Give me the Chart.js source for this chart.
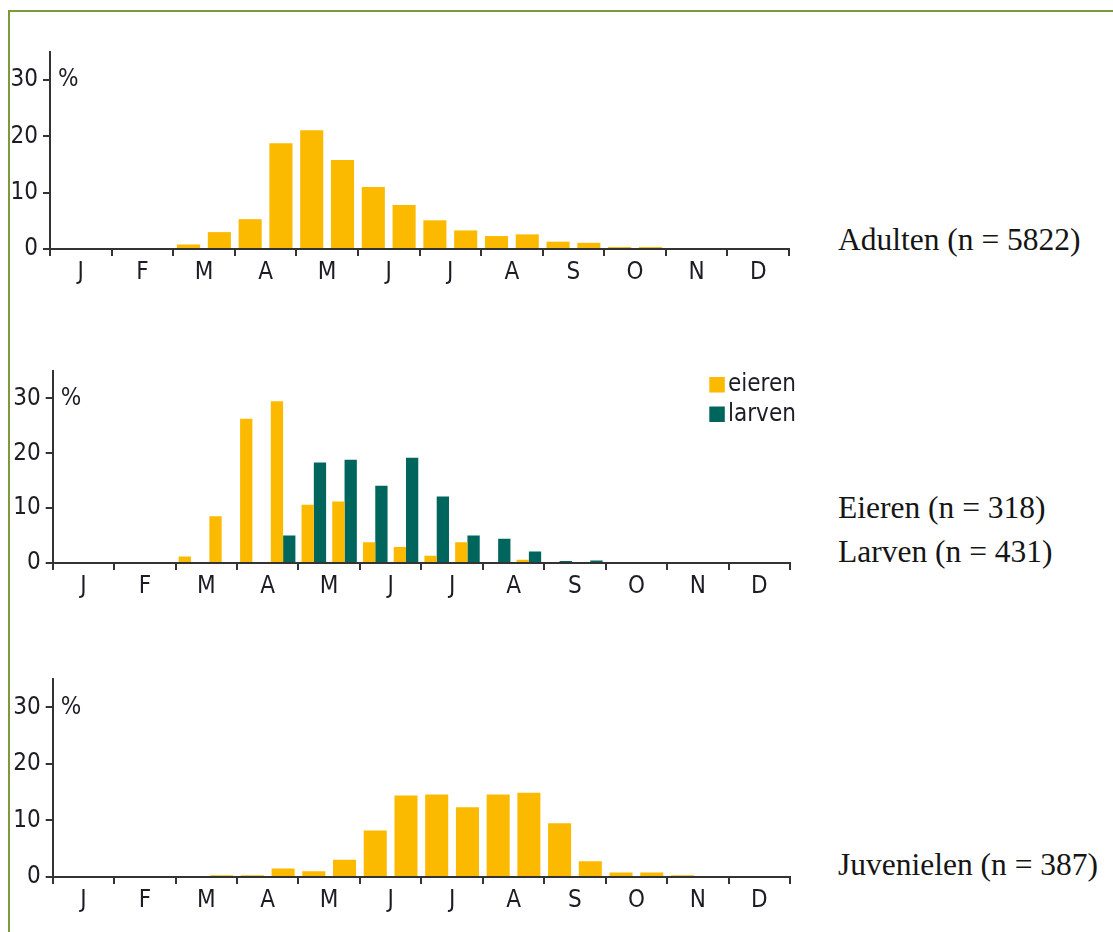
<!DOCTYPE html>
<html><head><meta charset="utf-8">
<script src="https://cdn.jsdelivr.net/npm/chart.js@4/dist/chart.umd.min.js"></script>
<style>
html,body{margin:0;padding:0;background:#fff;width:1113px;height:932px;overflow:hidden}
#frame{position:absolute;left:8px;top:10px;width:1200px;height:1000px;border-top:2px solid #7B9A3C;border-left:2px solid #7B9A3C;box-sizing:border-box}
.panel{position:absolute;left:0}
.note{position:absolute;left:838px;font-family:"Liberation Serif","DejaVu Serif",serif;font-size:31.5px;color:#151515;white-space:nowrap;line-height:1}
</style></head><body>
<div id="frame"></div>
<div class="panel" id="p1"><canvas id="c1"></canvas></div>
<div class="panel" id="p2"><canvas id="c2"></canvas></div>
<div class="panel" id="p3"><canvas id="c3"></canvas></div>
<div class="note" style="top:224px">Adulten (n = 5822)</div>
<div class="note" style="top:492px">Eieren (n = 318)</div>
<div class="note" style="top:536px">Larven (n = 431)</div>
<div class="note" style="top:849px">Juvenielen (n = 387)</div>
<script>
// Month labels (axis shows one per month; data are in half-month bins)
const monthLabels = ['J','F','M','A','M','J','J','A','S','O','N','D'];
const yTicks = [0, 10, 20, 30];
const yMax = 35;
// Percentages per half-month bin (24 bins: Jan-1, Jan-2, ..., Dec-2)
const adulten    = [0,0,0,0,0.8,3.0,5.3,18.8,21.1,15.8,11.0,7.8,5.1,3.3,2.3,2.6,1.3,1.1,0.35,0.35,0,0,0,0];
const eieren     = [0,0,0,0,1.2,8.5,26.3,29.5,10.6,11.2,3.8,2.9,1.3,3.8,0,0.6,0,0,0,0,0,0,0,0];
const larven     = [0,0,0,0,0,0,0,5.0,18.3,18.8,14.1,19.2,12.1,5.0,4.4,2.1,0.35,0.45,0,0,0,0,0,0];
const juvenielen = [0,0,0,0,0,0.3,0.3,1.5,1.0,3.05,8.2,14.4,14.6,12.35,14.6,14.9,9.5,2.8,0.8,0.8,0.3,0,0,0];
const seriesNames = ['eieren', 'larven'];

const YELLOW = '#FBBA00', TEAL = '#00665D', AX = '#333333', TX = '#1c1c24';
const SANS = '"DejaVu Sans Condensed", "Liberation Sans", sans-serif';
const FS = 24;

const toPoints = arr => arr.map((v, i) => ({x: i + 0.5, y: v}));

const deco = {
  id: 'deco',
  afterDraw(chart, args, o) {
    const {ctx, chartArea: a, scales: {y}} = chart;
    ctx.save();
    ctx.font = FS + 'px ' + SANS;
    ctx.textBaseline = 'middle';
    ctx.textAlign = 'left';
    ctx.fillStyle = TX;
    ctx.fillText('%', a.left + 8, y.getPixelForValue(yTicks[yTicks.length - 1]));
    if (o && o.legend) {
      chart.data.datasets.forEach((ds, i) => {
        const yy = a.top + 6 + i * 29.5;
        ctx.fillStyle = ds.backgroundColor;
        ctx.fillRect(a.right - 80.7, yy, 15.5, 15.5);
        ctx.fillStyle = TX;
        ctx.fillText(ds.label, a.right - 62, yy + 8);
      });
    }
    ctx.restore();
  }
};

function makePanel(n, box, datasets, catPct, legend) {
  const H_TOP = 22, H_X = 45, W = 830;
  const H = (box.bottom - box.top) + H_TOP + H_X;
  const div = document.getElementById('p' + n);
  div.style.top = (box.top - H_TOP) + 'px';
  div.style.width = W + 'px'; div.style.height = H + 'px';
  const cv = document.getElementById('c' + n);
  cv.style.width = W + 'px'; cv.style.height = H + 'px';
  cv.width = W; cv.height = H;
  return new Chart(cv, {
    type: 'bar',
    data: {datasets},
    plugins: [deco],
    options: {
      responsive: false,
      animation: false,
      devicePixelRatio: 1,
      layout: {padding: {top: H_TOP, left: 0, right: W - box.right, bottom: 0}},
      datasets: {bar: {categoryPercentage: catPct, barPercentage: 1, borderWidth: 0}},
      plugins: {legend: {display: false}, tooltip: {enabled: false}, deco: {legend}},
      scales: {
        x: {
          type: 'linear', min: 0, max: 24, offset: false,
          afterFit(s) { s.height = H_X; },
          afterBuildTicks(s) { s.ticks = Array.from({length: 25}, (_, i) => ({value: i})); },
          grid: {offset: false, drawOnChartArea: false, drawTicks: true, tickLength: 7, lineWidth: 2,
                 color: c => (c.tick && c.tick.value % 2 === 0) ? AX : 'rgba(0,0,0,0)'},
          border: {display: true, color: AX, width: 2},
          ticks: {autoSkip: false, maxRotation: 0, minRotation: 0, padding: 2, color: TX,
                  font: {family: SANS, size: FS},
                  callback: v => (v % 2 === 1) ? monthLabels[(v - 1) / 2] : ''}
        },
        y: {
          min: 0, max: yMax,
          afterFit(s) { s.width = box.left; },
          afterBuildTicks(s) { s.ticks = yTicks.map(v => ({value: v})); },
          grid: {drawOnChartArea: false, drawTicks: true, tickLength: 7, lineWidth: 2, color: AX},
          border: {display: true, color: AX, width: 2},
          ticks: {padding: 5, color: TX, font: {family: SANS, size: FS}}
        }
      }
    }
  });
}

makePanel(1, {left: 50, right: 789, top: 51.9, bottom: 249.3},
  [{label: 'Adulten', data: toPoints(adulten), backgroundColor: YELLOW}], 0.75, false);
makePanel(2, {left: 52.7, right: 790, top: 371.2, bottom: 563.3},
  [{label: seriesNames[0], data: toPoints(eieren), backgroundColor: YELLOW},
   {label: seriesNames[1], data: toPoints(larven), backgroundColor: TEAL}], 0.8, true);
makePanel(3, {left: 52.7, right: 790, top: 678.9, bottom: 877.3},
  [{label: 'Juvenielen', data: toPoints(juvenielen), backgroundColor: YELLOW}], 0.75, false);
</script>
</body></html>
